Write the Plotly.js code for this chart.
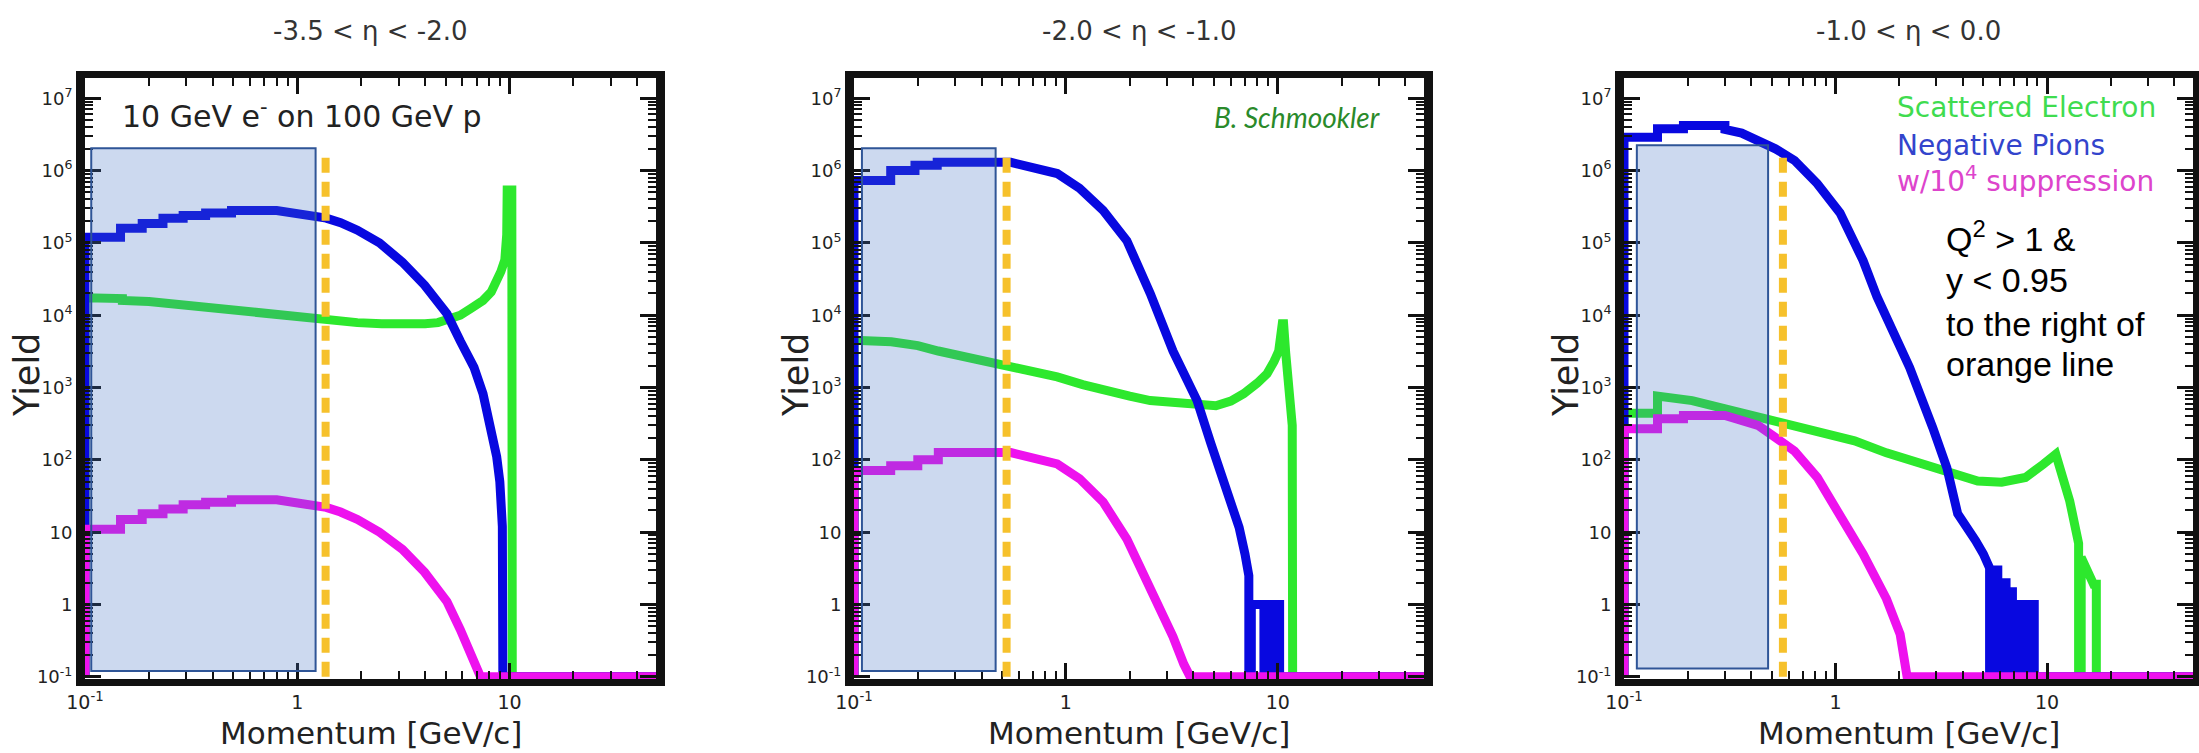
<!DOCTYPE html>
<html><head><meta charset="utf-8">
<script src="https://cdn.plot.ly/plotly-3.0.1.min.js"></script>
<style>html,body{margin:0;padding:0;background:#fff;}#chart{width:2199px;height:753px;}</style>
</head><body><div id="chart"></div>
<script>
// ---------- text / categories ----------
const panelTitles = ['-3.5 &lt; η &lt; -2.0', '-2.0 &lt; η &lt; -1.0', '-1.0 &lt; η &lt; 0.0'];
const seriesNames = ['Scattered Electron', 'Negative Pions', 'w/10<sup>4</sup> suppression'];
const xTickVals = [0.1, 1, 10];
const xTickText = ['10<sup>-1</sup>', '1', '10'];
const yTickVals = [0.1, 1, 10, 100, 1e3, 1e4, 1e5, 1e6, 1e7];
const yTickText = ['10<sup>-1</sup>', '1', '10', '10<sup>2</sup>', '10<sup>3</sup>', '10<sup>4</sup>', '10<sup>5</sup>', '10<sup>6</sup>', '10<sup>7</sup>'];

// ---------- panel 1 : -3.5 < eta < -2.0 ----------
const p1GreenX = [0.1, 0.1, 0.15, 0.15, 0.2, 0.25, 0.35, 0.5, 0.73, 1.0, 1.37, 1.92, 2.5, 3.13, 4.0, 4.6, 5.3, 5.86, 6.6, 7.5, 8.2, 8.6, 9.1, 9.5, 9.7, 9.75, 10.25, 10.3, 50];
const p1GreenY = [0.1, 1.75e4, 1.7e4, 1.6e4, 1.55e4, 1.45e4, 1.25e4, 1.12e4, 1.0e4, 9.3e3, 8.6e3, 7.9e3, 7.6e3, 7.5e3, 7.6e3, 7.9e3, 8.8e3, 1.0e4, 1.25e4, 1.6e4, 2.1e4, 2.7e4, 4.0e4, 5.8e4, 1.3e5, 5.4e5, 5.4e5, 0.1, 0.1];
const p1BlueX = [0.1, 0.1, 0.147, 0.147, 0.186, 0.186, 0.233, 0.233, 0.29, 0.29, 0.37, 0.37, 0.49, 0.49, 0.8, 1.0, 1.2, 1.37, 1.6, 1.92, 2.44, 3.13, 3.98, 5.07, 5.86, 6.8, 7.5, 8.2, 8.7, 9.0, 9.25, 9.3, 50];
const p1BlueY = [0.1, 1.2e5, 1.2e5, 1.6e5, 1.6e5, 1.85e5, 1.85e5, 2.2e5, 2.2e5, 2.4e5, 2.4e5, 2.6e5, 2.6e5, 2.8e5, 2.8e5, 2.6e5, 2.4e5, 2.2e5, 1.9e5, 1.5e5, 1.0e5, 5.4e4, 2.6e4, 1.05e4, 4.4e3, 1.9e3, 820, 280, 110, 50, 12, 0.1, 0.1];
const p1MagX = [0.1, 0.1, 0.147, 0.147, 0.186, 0.186, 0.233, 0.233, 0.29, 0.29, 0.37, 0.37, 0.49, 0.49, 0.8, 1.0, 1.2, 1.37, 1.6, 1.92, 2.44, 3.13, 3.98, 5.07, 5.86, 6.8, 7.3, 50];
const p1MagY = [0.1, 11, 11, 15, 15, 18, 18, 21, 21, 24, 24, 26, 26, 28, 28, 26, 24, 22, 19, 15, 10, 5.8, 2.8, 1.1, 0.45, 0.18, 0.1, 0.1];

// ---------- panel 2 : -2.0 < eta < -1.0 ----------
const p2GreenX = [0.1, 0.1, 0.15, 0.2, 0.25, 0.35, 0.445, 0.54, 0.7, 0.91, 1.2, 1.5, 2.0, 2.5, 3.4, 4.2, 5.1, 6.0, 6.9, 8.0, 8.9, 9.6, 10.1, 10.5, 10.65, 10.9, 11.2, 11.5, 11.7, 11.75, 50];
const p2GreenY = [0.1, 4.5e3, 4.3e3, 3.8e3, 3.2e3, 2.6e3, 2.2e3, 1.9e3, 1.6e3, 1.4e3, 1.1e3, 910, 760, 660, 600, 570, 560, 650, 820, 1.15e3, 1.55e3, 2.3e3, 3.2e3, 7.6e3, 7.6e3, 3.0e3, 900, 400, 300, 0.1, 0.1];
const p2BlueX = [0.1, 0.1, 0.149, 0.149, 0.194, 0.194, 0.247, 0.247, 0.55, 0.7, 0.91, 1.16, 1.5, 1.94, 2.5, 3.2, 4.16, 4.84, 5.63, 6.57, 7.0, 7.3, 7.3, 7.5, 7.5, 8.6, 8.6, 9.3, 9.3, 10.2, 10.2, 50];
const p2BlueY = [0.1, 7.3e5, 7.3e5, 1.0e6, 1.0e6, 1.18e6, 1.18e6, 1.3e6, 1.3e6, 1.1e6, 9.1e5, 5.7e5, 2.8e5, 1.07e5, 2.0e4, 3.2e3, 660, 167, 42, 11.6, 5, 2.5, 0.1, 0.1, 1, 1, 0.1, 0.1, 1, 1, 0.1, 0.1];
const p2MagX = [0.1, 0.1, 0.149, 0.149, 0.2, 0.2, 0.25, 0.25, 0.55, 0.7, 0.91, 1.16, 1.5, 1.94, 2.5, 3.2, 3.6, 3.86, 50];
const p2MagY = [0.1, 71, 71, 83, 83, 100, 100, 126, 126, 107, 88, 55, 26, 8, 1.8, 0.36, 0.15, 0.1, 0.1];

// ---------- panel 3 : -1.0 < eta < 0.0 ----------
const p3GreenX = [0.1, 0.1, 0.144, 0.144, 0.21, 0.285, 0.39, 0.5, 0.64, 0.86, 1.23, 1.74, 2.6, 3.67, 4.7, 6.1, 7.9, 9.6, 11.0, 12.8, 13.8, 14.1, 14.1, 14.5, 14.5, 16.6, 17.1, 17.1, 50];
const p3GreenY = [0.1, 440, 440, 760, 660, 530, 400, 350, 300, 240, 183, 125, 87, 63, 51, 49, 57, 87, 120, 27, 9, 7, 0.1, 0.1, 4.5, 1.9, 1.9, 0.1, 0.1];
const p3BlueX = [0.1, 0.1, 0.144, 0.144, 0.191, 0.191, 0.3, 0.3, 0.36, 0.43, 0.52, 0.64, 0.82, 1.05, 1.35, 1.57, 1.74, 2.24, 2.88, 3.36, 3.78, 4.2, 4.6, 5.0, 5.35, 5.35, 5.6, 5.6, 5.85, 5.85, 6.1, 6.1, 6.4, 6.4, 6.6, 6.6, 6.86, 6.86, 7.2, 7.2, 7.6, 7.6, 7.9, 7.9, 8.3, 8.3, 8.45, 8.45, 8.7, 8.7, 50];
const p3BlueY = [0.1, 2.9e6, 2.9e6, 3.8e6, 3.8e6, 4.2e6, 4.2e6, 3.7e6, 3.3e6, 2.6e6, 2.0e6, 1.38e6, 6.6e5, 2.6e5, 5.7e4, 1.8e4, 9.3e3, 1.9e3, 280, 78, 18, 12, 7.6, 5, 3.2, 0.1, 0.1, 3, 3, 0.1, 0.1, 2, 2, 0.1, 0.1, 1.5, 1.5, 0.1, 0.1, 1, 1, 0.1, 0.1, 1, 1, 0.1, 0.1, 1, 1, 0.1, 0.1];
const p3MagX = [0.1, 0.1, 0.144, 0.144, 0.191, 0.191, 0.3, 0.36, 0.43, 0.52, 0.64, 0.82, 1.05, 1.35, 1.74, 2.02, 2.18, 50];
const p3MagY = [0.1, 270, 270, 370, 370, 410, 410, 350, 300, 204, 132, 57, 18, 5, 1.2, 0.39, 0.1, 0.1];

// shaded low-momentum box and orange cut line per panel (data coords)
const boxX = [[0.107, 1.22], [0.109, 0.466], [0.115, 0.48]];
const boxY = [[0.12, 2.04e6], [0.12, 2.04e6], [0.13, 2.24e6]];
const cutX = [1.36, 0.525, 0.564];
const cutY = [0.1, 1.9e6];

// ---------- layout geometry (pixels) ----------
const W = 2199, H = 753;
const xPx = [[85, 656], [854, 1424], [1624, 2193]];
const yPx = [78, 679];
const colors = {green: '#2de82d', blue: '#0808e0', mag: '#ee11ee'};
const rootFont = 'DejaVu Sans';

const series = [
  [[p1GreenX, p1GreenY], [p1BlueX, p1BlueY], [p1MagX, p1MagY]],
  [[p2GreenX, p2GreenY], [p2BlueX, p2BlueY], [p2MagX, p2MagY]],
  [[p3GreenX, p3GreenY], [p3BlueX, p3BlueY], [p3MagX, p3MagY]]
];
const seriesColors = [colors.green, colors.blue, colors.mag];

const traces = [];
series.forEach((panel, i) => {
  const sfx = i ? String(i + 1) : '';
  panel.forEach((s, j) => {
    traces.push({
      type: 'scatter', mode: 'lines', x: s[0], y: s[1],
      xaxis: 'x' + sfx, yaxis: 'y' + sfx,
      name: seriesNames[j].replace(/<[^>]+>/g, ''),
      line: {color: seriesColors[j], width: 9, shape: 'linear'},
      showlegend: false, hoverinfo: 'skip'
    });
  });
});

// minor tick positions (axis decoration)
const xMinor = [], yMinor = [];
for (let k = -1; k <= 1; k++) for (let m = 2; m <= 9; m++) xMinor.push(m * Math.pow(10, k));
for (let k = -1; k <= 6; k++) for (let m = 2; m <= 9; m++) yMinor.push(m * Math.pow(10, k));

const layout = {
  width: W, height: H, margin: {l: 0, r: 0, t: 0, b: 0},
  paper_bgcolor: '#fff', plot_bgcolor: '#fff', showlegend: false,
  shapes: [], annotations: []
};

for (let i = 0; i < 3; i++) {
  const sfx = i ? String(i + 1) : '';
  layout['xaxis' + sfx] = {
    domain: [xPx[i][0] / W, xPx[i][1] / W], anchor: 'y' + sfx,
    type: 'log', range: [-1, 1.69], fixedrange: true,
    tickmode: 'array', tickvals: xTickVals, ticktext: xTickText,
    ticks: 'inside', ticklen: 16, tickwidth: 3, tickcolor: '#111',
    minor: {ticks: 'inside', ticklen: 8, tickwidth: 2, tickcolor: '#111', tickmode: 'array', tickvals: xMinor, showgrid: false},
    showline: true, linewidth: 7, linecolor: '#111', mirror: 'allticks',
    showgrid: false, zeroline: false,
    tickfont: {family: rootFont, size: 19, color: '#222'}
  };
  layout['yaxis' + sfx] = {
    domain: [1 - yPx[1] / H, 1 - yPx[0] / H], anchor: 'x' + sfx,
    type: 'log', range: [-1.03, 7.28], fixedrange: true,
    tickmode: 'array', tickvals: yTickVals, ticktext: yTickText,
    ticks: 'inside', ticklen: 16, tickwidth: 3, tickcolor: '#111',
    minor: {ticks: 'inside', ticklen: 8, tickwidth: 2, tickcolor: '#111', tickmode: 'array', tickvals: yMinor, showgrid: false},
    showline: true, linewidth: 9, linecolor: '#111', mirror: 'allticks',
    showgrid: false, zeroline: false,
    tickfont: {family: rootFont, size: 18, color: '#222'}
  };
  // shaded box
  layout.shapes.push({
    type: 'rect', xref: 'x' + sfx, yref: 'y' + sfx,
    x0: boxX[i][0], x1: boxX[i][1], y0: boxY[i][0], y1: boxY[i][1],
    fillcolor: 'rgba(68,114,196,0.27)', line: {color: '#2f5597', width: 2}, layer: 'above'
  });
  // orange dashed cut line
  layout.shapes.push({
    type: 'line', xref: 'x' + sfx, yref: 'y' + sfx,
    x0: cutX[i], x1: cutX[i], y0: cutY[0], y1: cutY[1],
    line: {color: '#f6c12c', width: 8, dash: '15px,9px'}, layer: 'above'
  });
  const cx = (xPx[i][0] + xPx[i][1]) / 2 / W;
  // panel title
  layout.annotations.push({
    xref: 'paper', yref: 'paper', x: cx, y: 1 - 31 / H, xanchor: 'center', yanchor: 'middle',
    text: panelTitles[i], showarrow: false, font: {family: rootFont, size: 26, color: '#333'}
  });
  // x axis title
  layout.annotations.push({
    xref: 'paper', yref: 'paper', x: cx, y: 1 - 733 / H, xanchor: 'center', yanchor: 'middle',
    text: 'Momentum [GeV/c]', showarrow: false, font: {family: rootFont, size: 31, color: '#222'}
  });
  // y axis title
  layout.annotations.push({
    xref: 'paper', yref: 'paper', x: (xPx[i][0] - 58) / W, y: 1 - 375 / H, xanchor: 'center', yanchor: 'middle',
    text: 'Yield', textangle: -90, showarrow: false, font: {family: rootFont, size: 35, color: '#222'}
  });
}

// beam annotation (panel 1)
layout.annotations.push({
  xref: 'paper', yref: 'paper', x: 120 / W, y: 1 - 115 / H, xanchor: 'left', yanchor: 'middle',
  text: '10 GeV e<sup>-</sup> on 100 GeV p', showarrow: false, font: {family: rootFont, size: 30, color: '#222'}
});
// author (panel 2)
layout.annotations.push({
  xref: 'paper', yref: 'paper', x: 1212 / W, y: 1 - 117 / H, xanchor: 'left', yanchor: 'middle',
  text: '<i>B. Schmookler</i>', showarrow: false, font: {family: 'Lato', size: 28, color: '#2a8a2a'}
});
// legend text (panel 3)
const legendColors = ['#3fdc4f', '#3344cc', '#dd44cc'];
const legendY = [108, 145, 179];
seriesNames.forEach((n, j) => {
  layout.annotations.push({
    xref: 'paper', yref: 'paper', x: 1895 / W, y: 1 - legendY[j] / H, xanchor: 'left', yanchor: 'middle',
    text: n, showarrow: false, font: {family: rootFont, size: 28, color: legendColors[j]}
  });
});
// cut description (panel 3)
const cutLines = ['Q<sup>2</sup> > 1 &amp;', 'y &lt; 0.95', 'to the right of', 'orange line'];
const cutLineY = [237, 280, 324, 364];
cutLines.forEach((t, j) => {
  layout.annotations.push({
    xref: 'paper', yref: 'paper', x: 1944 / W, y: 1 - cutLineY[j] / H, xanchor: 'left', yanchor: 'middle',
    text: t, showarrow: false, font: {family: 'Liberation Sans', size: 34, color: '#000'}
  });
});

Plotly.newPlot('chart', traces, layout, {displayModeBar: false, responsive: false});
</script></body></html>
